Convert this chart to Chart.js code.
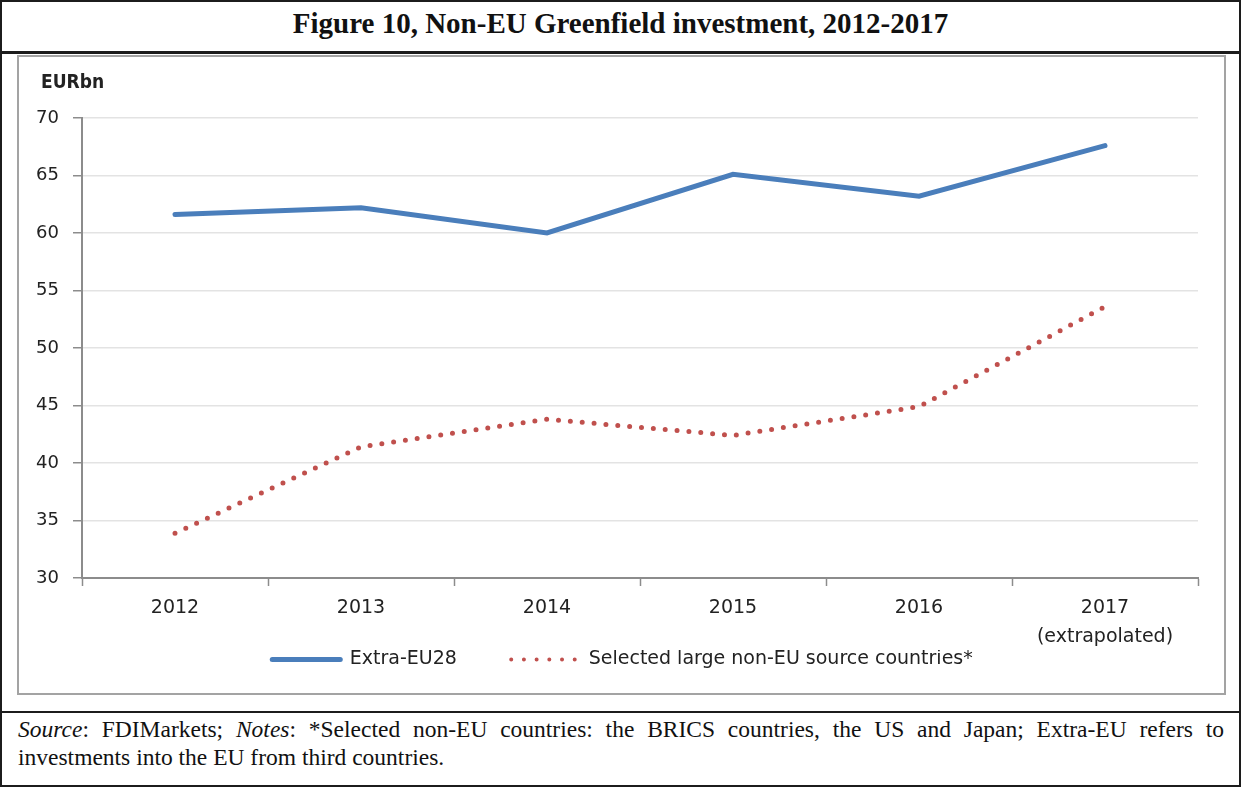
<!DOCTYPE html>
<html>
<head>
<meta charset="utf-8">
<title>Non-EU Greenfield investment</title>
<script src="https://cdn.jsdelivr.net/npm/chart.js@4/dist/chart.umd.min.js"></script>
<style>
  body { margin: 0; background: #fff; }
  .box { position: absolute; box-sizing: border-box; }
  #outer { left: 0; top: 0; width: 1241px; height: 787px; border: 2px solid #1c1c1c; }
  #heading { left: 0; top: 0; width: 1241px; height: 50px; text-align: center;
    font: bold 29px "Liberation Serif", "Times New Roman", serif; line-height: 46px; color: #111; }
  #rule1 { left: 0; top: 51px; width: 1241px; height: 3px; background: #1c1c1c; }
  #panel { left: 17px; top: 55px; width: 1209px; height: 640px; border: 2px solid #a3a3a3; }
  #unit { left: 41px; top: 70px; font: bold 19px "DejaVu Sans Condensed", "DejaVu Sans", sans-serif; color: #222; }
  #rule2 { left: 0; top: 711px; width: 1241px; height: 2px; background: #1c1c1c; }
  #notes { left: 18px; top: 716px; width: 1206px; font: 23.5px "Liberation Serif", "Times New Roman", serif;
    line-height: 27.5px; text-align: justify; color: #111; }
  #wrap { left: 19px; top: 57px; width: 1205px; height: 636px; }
</style>
</head>
<body>
<div id="outer" class="box"></div>
<div id="heading" class="box">Figure 10, Non-EU Greenfield investment, 2012-2017</div>
<div id="rule1" class="box"></div>
<div id="panel" class="box"></div>
<div id="wrap" class="box"><canvas id="chart" width="1205" height="636"></canvas></div>
<div id="unit" class="box">EURbn</div>
<div id="rule2" class="box"></div>
<div id="notes" class="box"><i>Source</i>: FDIMarkets; <i>Notes</i>: *Selected non-EU countries: the BRICS countries, the US and Japan; Extra-EU refers to investments into the EU from third countries.</div>

<script>
// years on the x axis; the last one is an extrapolation
var years = ["2012", "2013", "2014", "2015", "2016", ["2017", "(extrapolated)"]];

// EUR bn
var extraEU28 = [61.6, 62.2, 60.0, 65.1, 63.2, 67.6];
var selectedLarge = [33.9, 41.4, 43.8, 42.4, 44.9, 53.6];

var yMin = 30, yMax = 70, yStep = 5;

var tickFont = { family: "DejaVu Sans", size: 19, lineHeight: 1.5 };
var axisGrey = "#8c8c8c";

// nudge the legend a little to the right of the canvas centre
var legendShift = {
    id: "legendShift",
    afterLayout: function (chart) {
        chart.legend.left += 14;
        chart.legend.right += 14;
    }
};

new Chart(document.getElementById("chart"), {
    type: "line",
    data: {
        labels: years,
        datasets: [{
                label: "Extra-EU28",
                data: extraEU28,
                borderColor: "#4a7ebb",
                backgroundColor: "#4a7ebb",
                borderWidth: 5,
                borderCapStyle: "round",
                pointRadius: 0,
                pointStyle: "line",
                tension: 0
            },
            {
                label: "Selected large non-EU source countries*",
                data: selectedLarge,
                borderColor: "#c0504d",
                backgroundColor: "#c0504d",
                borderWidth: 5,
                borderDash: [0, 11.9],
                borderCapStyle: "round",
                pointRadius: 0,
                pointStyle: "line",
                tension: 0
            }
        ]
    },
    options: {
        responsive: false,
        animation: false,
        layout: { padding: { left: 0, right: 26, top: 61, bottom: 14 } },
        scales: {
            x: {
                offset: true,
                grid: { offset: true, drawOnChartArea: false, tickLength: 8, tickColor: axisGrey, tickWidth: 1.5 },
                border: { color: axisGrey, width: 2 },
                ticks: { color: "#222", font: tickFont, padding: 8, maxRotation: 0 },
                afterFit: function (scale) { scale.height = 72; }
            },
            y: {
                min: yMin,
                max: yMax,
                ticks: { stepSize: yStep, color: "#222", font: { family: "DejaVu Sans", size: 18 }, padding: 14 },
                grid: { color: "#e3e3e3", lineWidth: 1.5, tickLength: 9, tickColor: axisGrey },
                border: { color: axisGrey, width: 2 },
                afterFit: function (scale) { scale.width = 63; }
            }
        },
        plugins: {
            tooltip: { enabled: false },
            legend: {
                position: "bottom",
                labels: {
                    usePointStyle: true,
                    pointStyleWidth: 68,
                    padding: 0,
                    color: "#222",
                    font: { family: "DejaVu Sans", size: 19 },
                    // legend samples take the dash and cap of the dataset line;
                    // trailing spaces widen the gap between the two entries
                    generateLabels: function (chart) {
                        var items = Chart.defaults.plugins.legend.labels.generateLabels(chart);
                        items.forEach(function (item, i) {
                            var ds = chart.data.datasets[i];
                            item.lineDash = ds.borderDash ? [0, 12.7] : [];
                            item.lineCap = "round";
                            item.lineWidth = ds.borderDash ? 4 : 5;
                            if (i === 0) item.text = item.text + "         ";
                        });
                        return items;
                    }
                }
            }
        }
    },
    plugins: [legendShift]
});
</script>
</body>
</html>
